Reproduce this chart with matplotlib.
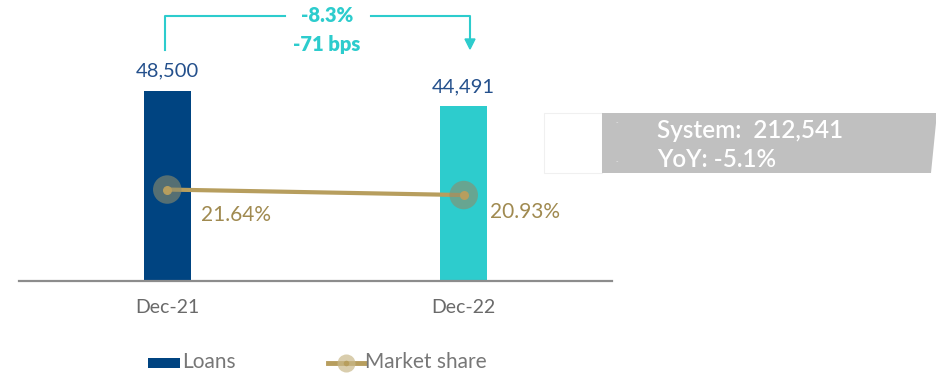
import matplotlib
matplotlib.use("Agg")
import matplotlib.pyplot as plt
from matplotlib.patches import Polygon, Rectangle
from matplotlib.lines import Line2D

categories = ["Dec-21", "Dec-22"]
loans = [48500, 44491]
market_share = [21.64, 20.93]
loan_labels = ["48,500", "44,491"]
share_labels = ["21.64%", "20.93%"]
bar_colors = ["#004481", "#2DCCCD"]
change_loans = "-8.3%"
change_share = "-71 bps"
system_text = "System:  212,541"
yoy_text = "YoY: -5.1%"

W, H = 937, 373
DPI = 100
plt.rcParams['font.family'] = ['Lato', 'DejaVu Sans']

fig = plt.figure(figsize=(W / DPI, H / DPI), dpi=DPI)

def fx(px):
    return px / W

def fy(py):
    return 1 - py / H

ax = fig.add_axes([fx(19), fy(281), fx(612) - fx(19), fy(0) - fy(281)])
ax2 = ax.twinx()

x = list(range(len(categories)))
ax.bar(x, loans, width=0.16, color=bar_colors, zorder=2)
ax.set_xlim(-0.5, 1.5)
ax.set_ylim(0, 48500 * 281 / 190.5)
for s in ["top", "right", "left"]:
    ax.spines[s].set_visible(False)
    ax2.spines[s].set_visible(False)
ax2.spines["bottom"].set_visible(False)
ax.spines["bottom"].set_color("#8c8c8c")
ax.spines["bottom"].set_linewidth(1.6)
ax.set_yticks([])
ax2.set_yticks([])
ax.set_xticks(x)
ax.set_xticklabels(categories, fontsize=14, color="#6a6a6a")
ax.tick_params(axis="x", length=0, pad=13)

for xi, v, lab in zip(x, loans, loan_labels):
    ax.annotate(lab, (xi, v), xytext=(0, 8), textcoords="offset points",
                ha="center", va="bottom", fontsize=14.5, color="#24508c")

ax2.set_ylim(9.84, 9.84 + 281 / 7.75)
ax2.plot(x, market_share, color="#B79E5E", lw=3, zorder=3)
ax2.scatter(x, market_share, s=420, color="#8e8c6a", alpha=0.6, zorder=4,
            edgecolors="none")
ax2.scatter(x, market_share, s=30, color="#B79E5E", zorder=5)
offsets = [(24, -18), (19, -12)]
for xi, v, lab, off in zip(x, market_share, share_labels, offsets):
    ax2.annotate(lab, (xi, v), xytext=off, textcoords="offset points",
                 ha="left", va="center", fontsize=15, color="#a08a50")

# change annotation (bracket arrow)
teal = "#2DCCCD"
bx0, bx1 = 165, 470
ytop = 16
fig.add_artist(Line2D([fx(bx0), fx(bx0), fx(285)], [fy(50), fy(ytop), fy(ytop)],
                      color=teal, lw=1.5))
fig.add_artist(Line2D([fx(371), fx(bx1), fx(bx1)], [fy(ytop), fy(ytop), fy(40)],
                      color=teal, lw=1.5))
fig.add_artist(Polygon([(fx(bx1 - 5), fy(39)), (fx(bx1 + 5), fy(39)), (fx(bx1), fy(49))],
                       closed=True, color=teal, transform=fig.transFigure))
fig.text(fx(327), fy(16), change_loans, ha="center", va="center", fontsize=14.5,
         color=teal, fontweight="heavy")
fig.text(fx(327), fy(44), change_share, ha="center", va="center", fontsize=14.5,
         color=teal, fontweight="heavy")

# system box
fig.add_artist(Rectangle((fx(544), fy(173)), fx(602) - fx(544), fy(113) - fy(173),
                         facecolor="white", edgecolor="#f0f0f0", lw=0.8,
                         transform=fig.transFigure))
fig.add_artist(Polygon([(fx(602), fy(113)), (fx(937), fy(113)), (fx(931), fy(173)),
                        (fx(602), fy(173))], closed=True, facecolor="#c0c0c0",
                       edgecolor="none", transform=fig.transFigure))
fig.text(fx(657), fy(131), system_text, ha="left", va="center", fontsize=17.5,
         color="white", fontweight="semibold")
fig.text(fx(657), fy(159), yoy_text, ha="left", va="center", fontsize=17.5,
         color="white", fontweight="semibold")
fig.text(fx(617), fy(123), "-", ha="center", va="center", fontsize=5, color="#e8e8e8")
fig.text(fx(617), fy(162), "-", ha="center", va="center", fontsize=5, color="#e8e8e8")

# legend
fig.add_artist(Rectangle((fx(148), fy(368)), fx(180) - fx(148), fy(358) - fy(368),
                         facecolor="#004481", edgecolor="none",
                         transform=fig.transFigure))
fig.text(fx(182), fy(362), "Loans", ha="left", va="center", fontsize=15,
         color="#777777")
fig.add_artist(Line2D([fx(328), fx(365)], [fy(363), fy(363)], color="#B79E5E", lw=3.5))
fig.add_artist(Line2D([fx(346)], [fy(363)], marker="o", markersize=13,
                      color="#c9b98a", alpha=0.7, markeredgewidth=0))
fig.add_artist(Line2D([fx(346)], [fy(363)], marker="o", markersize=4,
                      color="#B79E5E", markeredgewidth=0))
fig.text(fx(365), fy(362), "Market share", ha="left", va="center", fontsize=15,
         color="#777777")

fig.savefig("out.png", dpi=DPI)
